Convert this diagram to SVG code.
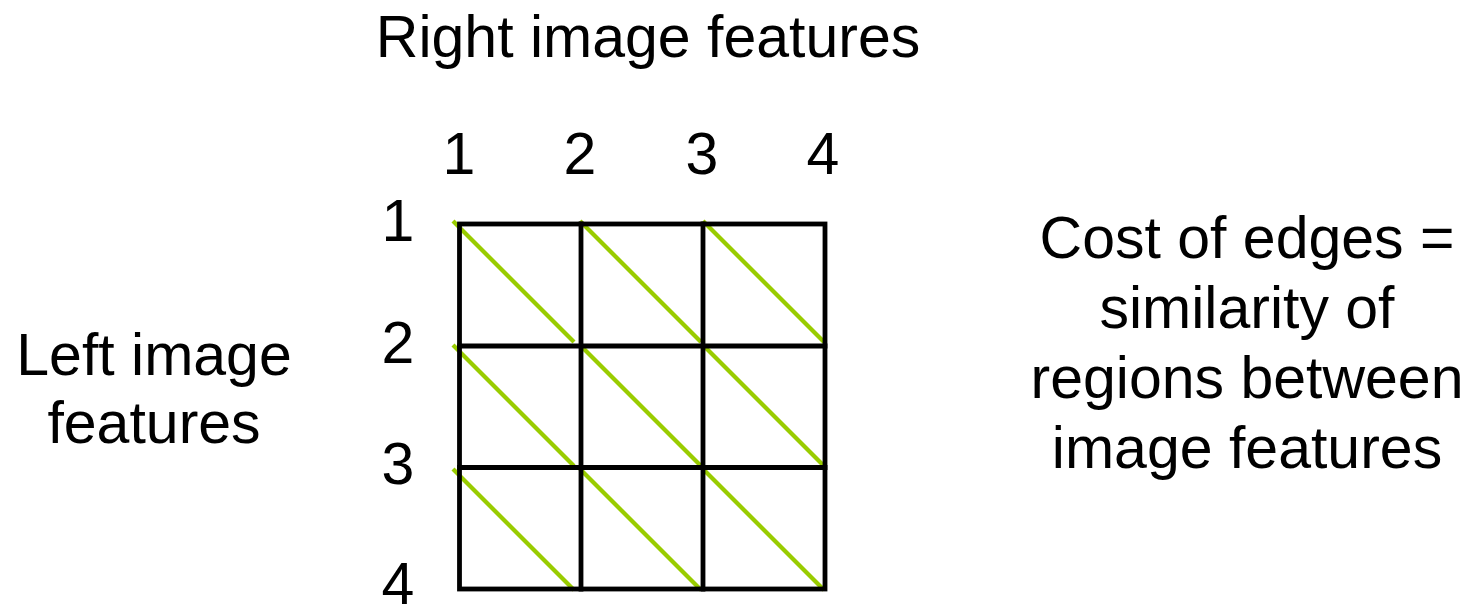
<svg xmlns="http://www.w3.org/2000/svg" width="1468" height="605" viewBox="0 0 1468 605">
<style>
text{font-family:"Liberation Sans",Arial,sans-serif;font-size:59px;fill:#000;text-anchor:middle}
.grid{stroke:#000;stroke-width:4.8;fill:none;stroke-linecap:square}
.edge{stroke:#99cc00;stroke-width:4.2;fill:none}
</style>
<rect width="1468" height="605" fill="#fff"/>
<g id="title"><text x="648" y="57">Right image features</text></g>
<g id="left-label"><text x="154" y="375">Left image</text><text x="154" y="443">features</text></g>
<g id="right-label">
<text x="1247" y="258">Cost of edges =</text>
<text x="1247" y="328">similarity of</text>
<text x="1247" y="398">regions between</text>
<text x="1247" y="468">image features</text>
</g>
<g id="col-numbers">
<text x="459" y="174">1</text><text x="580" y="174">2</text><text x="702" y="174">3</text><text x="823" y="174">4</text>
</g>
<g id="row-numbers">
<text x="398" y="241">1</text><text x="398" y="363">2</text><text x="398" y="484">3</text><text x="398" y="604">4</text>
</g>
<g id="connectors">
<g class="edge">
<line x1="453" y1="221" x2="574" y2="342"/>
<line x1="580" y1="221" x2="701" y2="342"/>
<line x1="703" y1="221" x2="824" y2="342"/>
<line x1="453" y1="345" x2="574" y2="466"/>
<line x1="580" y1="345" x2="701" y2="466"/>
<line x1="703" y1="345" x2="824" y2="466"/>
<line x1="453" y1="469" x2="574" y2="590"/>
<line x1="580" y1="469" x2="701" y2="590"/>
<line x1="703" y1="469" x2="824" y2="590"/>
</g>
<g class="grid">
<rect x="459.5" y="224" width="365.5" height="365"/>
<line x1="581" y1="224" x2="581" y2="589"/>
<line x1="703" y1="224" x2="703" y2="589"/>
<line x1="459.5" y1="346" x2="825" y2="346"/>
<line x1="459.5" y1="467.5" x2="825" y2="467.5"/>
</g>
</g>
</svg>
